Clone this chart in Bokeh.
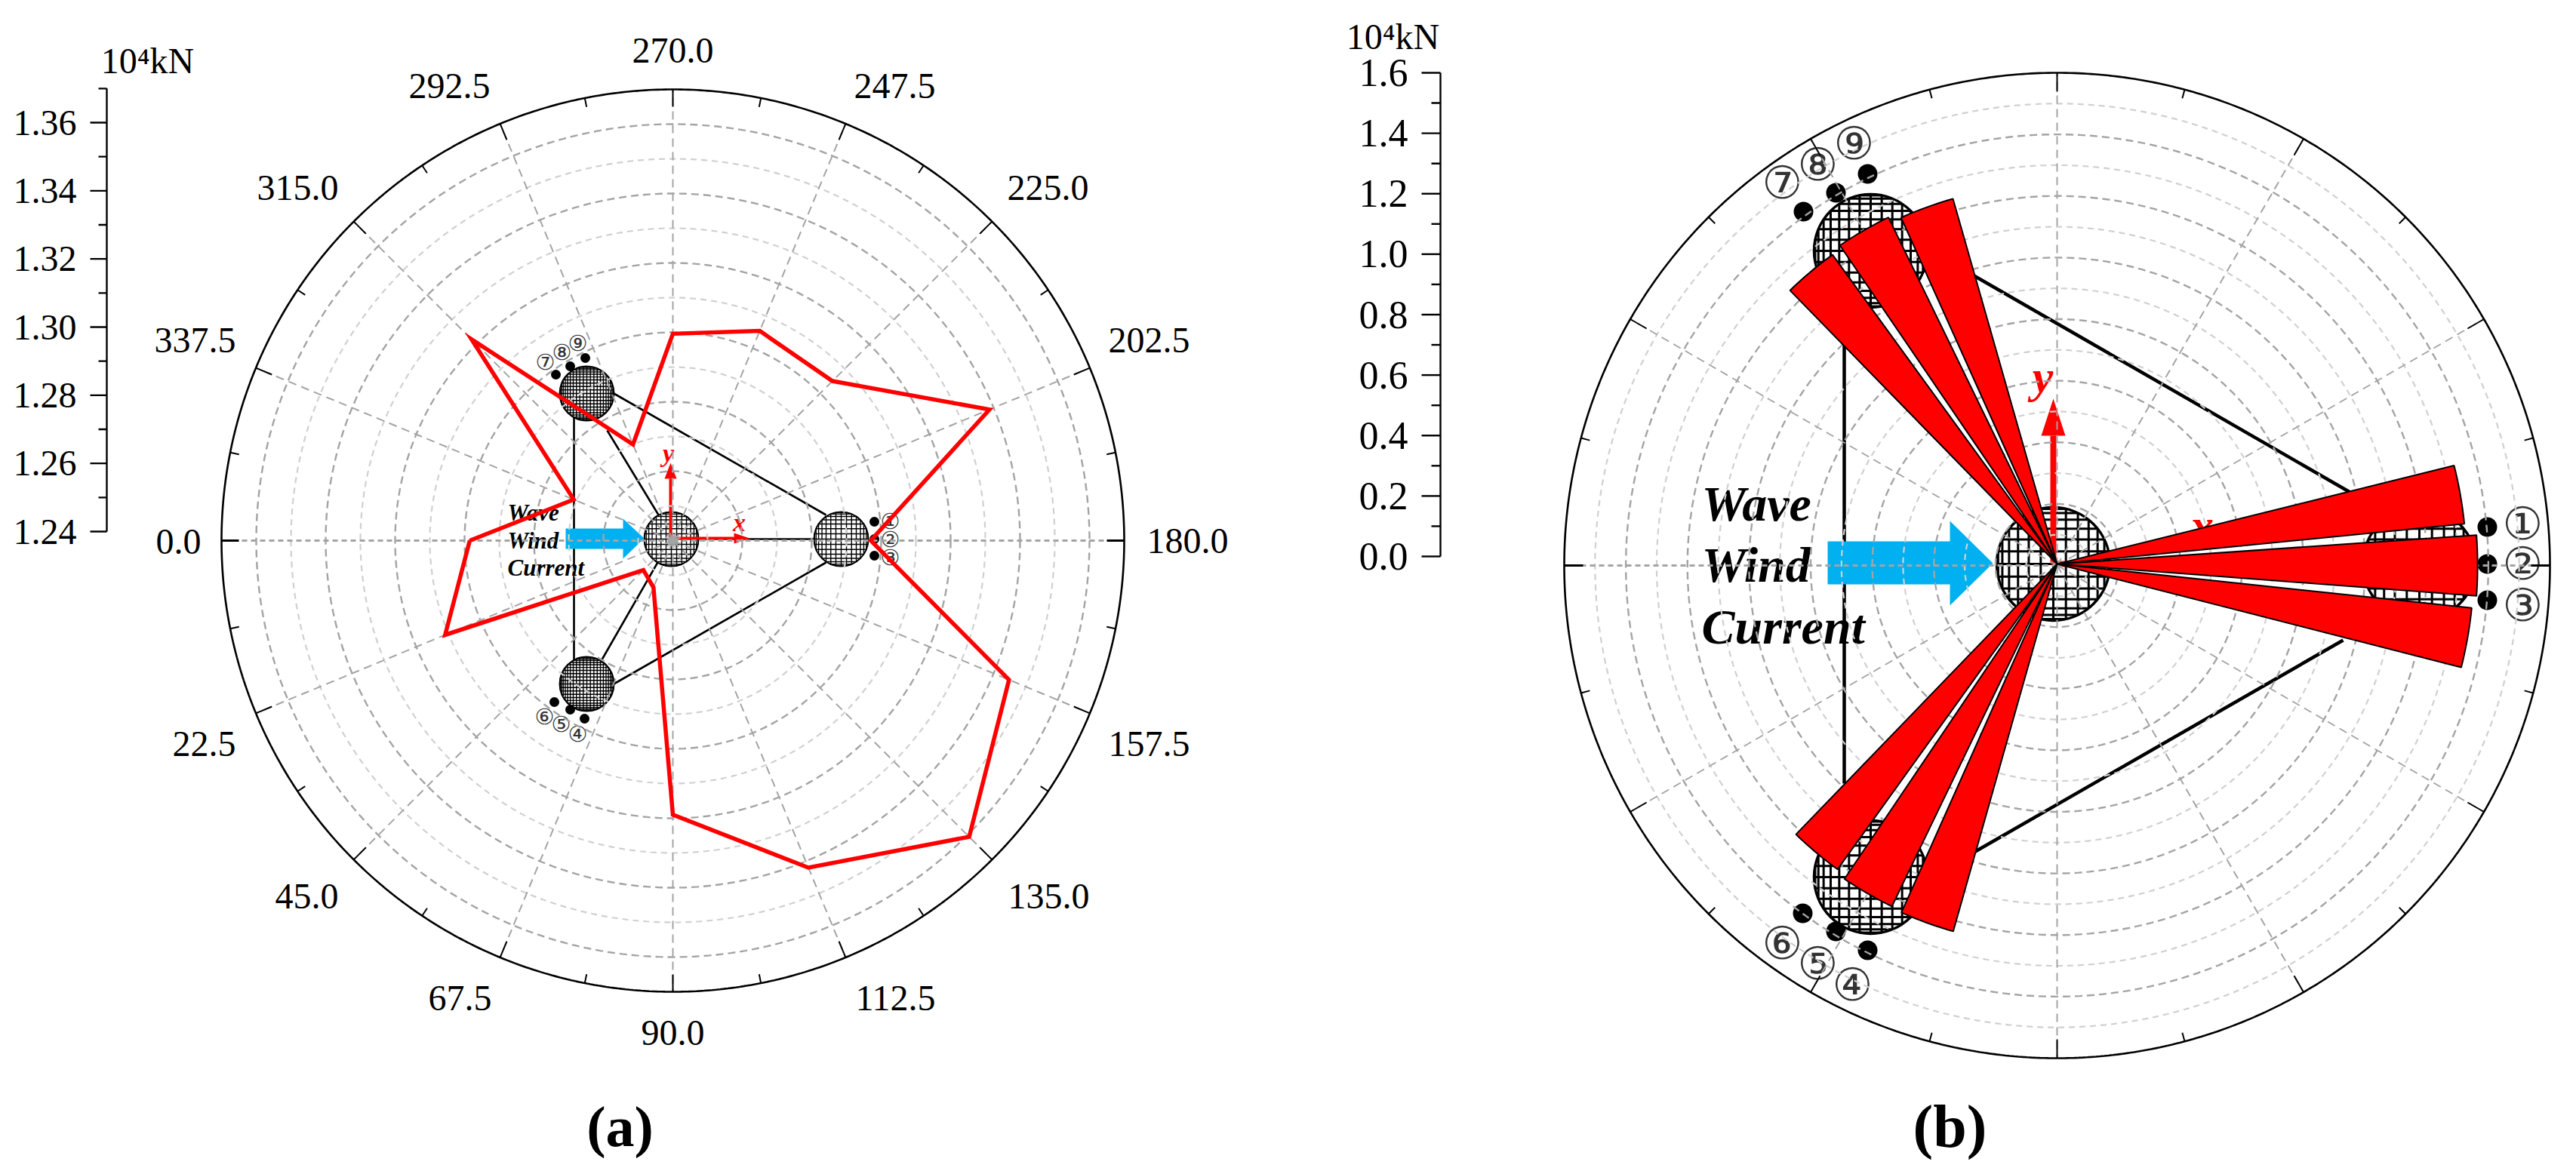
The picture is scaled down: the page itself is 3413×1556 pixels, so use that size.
import numpy as np
from bokeh.plotting import figure
from bokeh.models import Range1d
from bokeh.core.properties import value
from bokeh.embed import file_html
from bokeh.resources import INLINE

# ---------- data ----------
a_angles = [0, 22.5, 45, 67.5, 90, 112.5, 135, 157.5, 180, 202.5, 225, 247.5, 270, 292.5, 315, 337.5]
a_values = [1.2985, 1.311, 1.252, 1.2546, 1.319, 1.342, 1.3607, 1.3448, 1.297, 1.3387, 1.305, 1.3054, 1.2996, 1.270, 1.322, 1.2709]
a_axis_major = [1.24, 1.26, 1.28, 1.30, 1.32, 1.34, 1.36]
a_axis_minor = [1.25, 1.27, 1.29, 1.31, 1.33, 1.35, 1.37]
a_labels = ["0.0", "22.5", "45.0", "67.5", "90.0", "112.5", "135.0", "157.5", "180.0", "202.5", "225.0", "247.5", "270.0", "292.5", "315.0", "337.5"]
b_angles = [190, 180, 170, 70, 60, 50, 290, 300, 310]
b_values = [1.329, 1.365, 1.353, 1.235, 1.230, 1.217, 1.238, 1.256, 1.245]
b_width = 8.3
b_axis_major = [0.0, 0.2, 0.4, 0.6, 0.8, 1.0, 1.2, 1.4, 1.6]
b_axis_minor = [0.1, 0.3, 0.5, 0.7, 0.9, 1.1, 1.3, 1.5]

# ---------- layout (page pixels) ----------
W, H = 3413, 1556
A_C, A_R, A_MIN, A_MAX = (891, 716), 598, 1.24, 1.37
B_C, B_R, B_MIN, B_MAX = (2725, 749), 653, 0.0, 1.6
A_LABEL_POS = [(236, 717), (270, 985), (406, 1187), (609, 1322), (891, 1368), (1186, 1322), (1389, 1187), (1522, 985),
               (1573, 716), (1522, 450), (1388, 248), (1185, 113), (891, 66), (595, 113), (394, 248), (258, 450)]
FONT = value("Liberation Serif")
DARK, LIGHT = "#a4a4a4", "#d0d0d0"

p = figure(width=W - 16, height=H - 16, output_backend="svg", toolbar_location=None,
           x_range=Range1d(0, W - 16), y_range=Range1d(H - 16, 0), min_border=0)
p.axis.visible = False
p.grid.visible = False
p.outline_line_color = None


def polar(c, R, lo, hi, v, ang):
    r = (np.asarray(v, float) - lo) / (hi - lo) * R
    t = np.radians(ang)
    return c[0] - r * np.cos(t), c[1] + r * np.sin(t)


def txt(x, y, s, size, color="black", font=FONT, style="normal", align="center", base="middle"):
    p.text([x], [y], text=[s], text_font=font, text_font_size=f"{size}px", text_color=color,
           text_font_style=style, text_align=align, text_baseline=base)


def column(cx, cy, r, n, lw):
    ph = np.linspace(-np.pi / 2, np.pi / 2, n + 2)[1:-1]
    xs, ys = [], []
    for f in ph:
        o, h = r * np.sin(f), r * np.cos(f)
        xs += [[cx + o, cx + o], [cx - h, cx + h]]
        ys += [[cy - h, cy + h], [cy + o, cy + o]]
    p.circle(x=[cx], y=[cy], radius=r, fill_color="white", line_color="black", line_width=lw + 0.5)
    p.multi_line(xs, ys, line_color="black", line_width=lw)


def arrow_poly(xs, ys, color):
    p.patch(xs, ys, fill_color=color, line_color=None)


def platform(cols, r, n, lw, links, line_w, dots, dot_r, nums, num_size, blue):
    for x0, y0, x1, y1 in links:
        p.line([x0, x1], [y0, y1], line_color="black", line_width=line_w)
    for (cx, cy), k in zip(cols, n):
        column(cx, cy, r, k, lw)
    p.circle(x=[d[0] for d in dots], y=[d[1] for d in dots], radius=dot_r, fill_color="black", line_color=None)
    for (x, y), s in nums:
        txt(x, y, s, num_size, color="#333333", font=value("DejaVu Sans"))
    bx0, bx1, by0, by1, tip, ty, hy0, hy1 = blue
    arrow_poly([bx0, bx1, bx1, tip, bx1, bx1, bx0], [by0, by0, hy0, ty, hy1, by1, by1], "#00B0F0")


def red_axes(cx, cy, xend, xhead, xhw, ytop, yhead, yhw, sw):
    p.line([cx, xhead], [cy, cy], line_color="#ff0000", line_width=sw)
    arrow_poly([xhead, xend, xhead], [cy - xhw, cy, cy + xhw], "#ff0000")
    p.line([cx, cx], [cy, yhead], line_color="#ff0000", line_width=sw)
    arrow_poly([cx - yhw, cx, cx + yhw], [yhead, ytop, yhead], "#ff0000")


def polar_grid(c, R, nrings, radial_major, radial_step_minor, major_len, minor_len, lw):
    for i in range(1, nrings):
        dark = i % 2 == 0
        t = np.radians(np.linspace(0, 360, 361))
        r = i * R / nrings
        p.line(c[0] + r * np.cos(t), c[1] + r * np.sin(t), line_color=DARK if dark else LIGHT,
               line_width=2.4 if dark else 2.2, line_dash="10 6" if dark else "8 6")
    for ang in radial_major:
        t = np.radians(ang)
        horiz = ang % 180 == 0
        p.line([c[0], c[0] - R * np.cos(t)], [c[1], c[1] + R * np.sin(t)], line_color=DARK,
               line_width=3 if horiz else 2, line_dash="7 5" if horiz else "11 7")
    t = np.radians(np.linspace(0, 360, 721))
    p.line(c[0] + R * np.cos(t), c[1] + R * np.sin(t), line_color="black", line_width=lw)
    for ang in np.arange(0, 360, radial_step_minor):
        major = ang in radial_major
        L = major_len if major else minor_len
        t = np.radians(ang)
        p.line([c[0] - R * np.cos(t), c[0] - (R - L) * np.cos(t)], [c[1] + R * np.sin(t), c[1] + (R - L) * np.sin(t)],
               line_color="black", line_width=3 if ang % 180 == 0 else 2)


def y_axis(x, y_of, major, minor, fmt, major_len, minor_len, size, gap):
    vals = major + minor
    p.line([x, x], [y_of(min(vals)), y_of(max(vals))], line_color="black", line_width=2.4)
    for v in major:
        p.line([x - major_len, x], [y_of(v), y_of(v)], line_color="black", line_width=2.4)
        txt(x - major_len - gap, y_of(v), fmt % v, size, align="right")
    for v in minor:
        p.line([x - minor_len, x], [y_of(v), y_of(v)], line_color="black", line_width=2.4)


# ---------- panel (a) ----------
platform(cols=[(889, 714), (1114, 714), (777, 521), (777, 906)], r=36, n=[15, 15, 23, 23], lw=1.4,
         links=[(760, 552, 760, 875), (811, 520, 1094, 682), (811, 907, 1094, 745),
                (804, 570, 872, 682), (794, 879, 872, 743), (889, 714, 1090, 714)], line_w=2.6,
         dots=[(1158, 691), (1158, 714), (1158, 736), (736, 496), (755, 485), (775, 474), (734, 930), (755, 940), (774, 952)],
         dot_r=6.5,
         nums=[((1179, 690), "①"), ((1179, 714), "②"), ((1179, 738), "③"), ((722, 479), "⑦"), ((744, 466), "⑧"), ((765, 454), "⑨"),
               ((721, 949), "⑥"), ((743, 959), "⑤"), ((765, 972), "④")], num_size=29,
         blue=(749, 825, 700, 727, 853, 713, 687, 740))
for s, y in (("Wave", 679), ("Wind", 716), ("Current", 752)):
    txt(672, y, s, 31, style="bold italic", align="left")
red_axes(888, 713, 993, 972, 7, 613, 634, 8, 4)
txt(979, 692, "x", 34, color="#ff0000", style="bold italic")
txt(885, 600, "y", 34, color="#ff0000", style="bold italic")
polar_grid(A_C, A_R, 13, list(np.arange(0, 360, 22.5)), 11.25, 23, 12, 2.6)
ax, ay = polar(A_C, A_R, A_MIN, A_MAX, a_values + a_values[:1], a_angles + a_angles[:1])
p.line(ax, ay, line_color="#ff0000", line_width=5.5, line_join="miter")
for s, (x, y) in zip(a_labels, A_LABEL_POS):
    txt(x, y, s, 48)
y_axis(141, lambda v: 704 - (v - 1.24) / 0.12 * 542, a_axis_major, a_axis_minor, "%.2f", 22, 11, 48, 18)
txt(195, 80, "10⁴kN", 48)
txt(821, 1492, "(a)", 76, style="bold")

# ---------- panel (b) ----------
platform(cols=[(2720, 747), (3205, 747), (2478, 332), (2478, 1162)], r=75, n=[13, 13, 15, 15], lw=3,
         links=[(2443, 454, 2443, 1038), (2615, 365, 3115, 653), (2615, 1129, 3104, 848)], line_w=4.5,
         dots=[(3295, 698), (3295, 747), (3295, 795), (2389, 280), (2432, 255), (2474, 230), (2388, 1210), (2432, 1234), (2474, 1259)],
         dot_r=13,
         nums=[((3342, 693), "①"), ((3342, 746), "②"), ((3342, 801), "③"), ((2361, 241), "⑦"), ((2408, 217), "⑧"), ((2456, 189), "⑨"),
               ((2361, 1249), "⑥"), ((2408, 1276), "⑤"), ((2454, 1304), "④")], num_size=60,
         blue=(2421, 2583, 717, 774, 2640, 746, 690, 802))
for s, y in (("Wave", 667), ("Wind", 748), ("Current", 830)):
    txt(2254, y, s, 66, style="bold italic", align="left")
red_axes(2720, 747, 3000, 2960, 14, 528, 577, 16, 8)
txt(2917, 695, "x", 62, color="#ff0000", style="bold italic")
txt(2706, 498, "y", 62, color="#ff0000", style="bold italic")
polar_grid(B_C, B_R, 16, list(np.arange(0, 360, 30)), 15, 25, 12, 2.6)
for ang, v in zip(b_angles, b_values):
    arc = np.linspace(ang - b_width / 2, ang + b_width / 2, 12)
    wx, wy = polar(B_C, B_R, B_MIN, B_MAX, np.full(arc.shape, v), arc)
    p.patch(np.r_[B_C[0], wx], np.r_[B_C[1] - 2, wy], fill_color="#ff0000", line_color="black", line_width=2)
y_axis(1908, lambda v: 737 - v / 1.6 * 641, b_axis_major, b_axis_minor, "%.1f", 25, 12, 52, 18)
txt(1845, 48, "10⁴kN", 48)
txt(2583, 1492, "(b)", 80, style="bold")

open("out.html", "w").write(file_html(p, INLINE))
